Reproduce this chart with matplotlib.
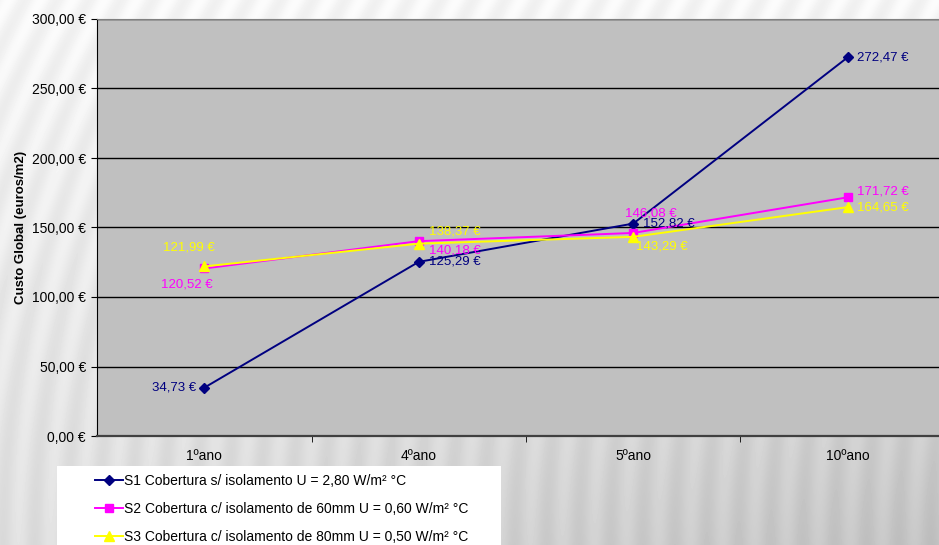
import numpy as np
import matplotlib.pyplot as plt
from matplotlib.patches import Rectangle

plt.rcParams['font.family'] = ['Liberation Sans', 'DejaVu Sans']

anos = ['1ºano', '4ºano', '5ºano', '10ºano']
s1 = [34.73, 125.29, 152.82, 272.47]
s2 = [120.52, 140.18, 146.08, 171.72]
s3 = [121.99, 138.37, 143.29, 164.65]
nomes = ['S1 Cobertura s/ isolamento U = 2,80 W/m² °C',
         'S2 Cobertura c/ isolamento de 60mm U = 0,60 W/m² °C',
         'S3 Cobertura c/ isolamento de 80mm U = 0,50 W/m² °C']

# label offsets in pixels (dx, dy, ha)
off1 = [(-8, 0, 'right'), (10, 0, 'left'), (10, 0, 'left'), (9, 0, 'left')]
off2 = [(-17, -16, 'center'), (10, -9, 'left'), (-8, 19, 'left'), (9, 6, 'left')]
off3 = [(-15, 19, 'center'), (10, 12, 'left'), (3, -10, 'left'), (9, 0, 'left')]

W, H = 939, 545
fig = plt.figure(figsize=(W / 100, H / 100), dpi=100)

# striped background
bg = fig.add_axes([0, 0, 1, 1], zorder=-10)
yy, xx = np.mgrid[0:H, 0:W].astype(float)
base = 246 - 52 * (yy / H) * (0.45 + 0.55 * xx / W)
phase = xx + 0.55 * yy - 0.55 * yy ** 2 / (2 * H)
img = base + 6 * np.sin(2 * np.pi * phase / 32)
bg.imshow(img, cmap='gray', vmin=0, vmax=255, aspect='auto', interpolation='bilinear')
bg.axis('off')

ax = fig.add_axes([97 / W, 1 - 436 / H, 858 / W, 417 / H])
ax.set_facecolor('#C0C0C0')
x = np.arange(len(anos))

series = [(s1, '#000080', 'D', 5, off1),
          (s2, '#FF00FF', 's', 6, off2),
          (s3, '#FFFF00', '^', 7, off3)]
handles = []
for vals, col, mk, ms, offs in series:
    h, = ax.plot(x, vals, color=col, marker=mk, markersize=ms, linewidth=1.4, zorder=3)
    handles.append(h)
    for xi, v, (dx, dy, ha) in zip(x, vals, offs):
        ax.annotate(f'{v:.2f} €'.replace('.', ','), (xi, v), xytext=(dx, dy),
                    textcoords='offset pixels', ha=ha, va='center',
                    color=col, fontsize=9.5, zorder=4)

ax.set_xlim(-0.5, 3.5)
ax.set_ylim(0, 300)
ax.set_yticks(np.arange(0, 301, 50))
ax.set_yticklabels([f'{v:.2f} €'.replace('.', ',') for v in np.arange(0, 301, 50)], fontsize=10)
ax.yaxis.grid(True, color='black', linewidth=1)
ax.set_axisbelow(True)
ax.set_xticks(x)
ax.set_xticklabels(anos, fontsize=10)
ax.set_xticks([0.5, 1.5, 2.5], minor=True)
ax.tick_params(axis='x', which='major', length=0, pad=9)
ax.tick_params(axis='x', which='minor', length=4, direction='out')
ax.tick_params(axis='y', length=4, direction='out', pad=4)
ax.spines['top'].set_color('#808080')
ax.spines['left'].set_color('black')
ax.spines['bottom'].set_color('#404040')
ax.spines['bottom'].set_linewidth(1.6)
ax.set_ylabel('Custo Global (euros/m2)', fontsize=9.5, fontweight='bold')
ax.yaxis.set_label_coords(-70 / 858, 0.5)

# legend box
fig.patches.append(Rectangle((57 / W, 0), (501 - 57) / W, (545 - 466) / H,
                             transform=fig.transFigure, facecolor='white',
                             edgecolor='none', zorder=1))
fig.legend(handles, nomes, loc='upper left', bbox_to_anchor=(88 / W, 1 - 467 / H),
           frameon=False, borderpad=0, fontsize=10, handlelength=2.0,
           handletextpad=0.1, labelspacing=1.0)

fig.savefig('out.png', dpi=100)
